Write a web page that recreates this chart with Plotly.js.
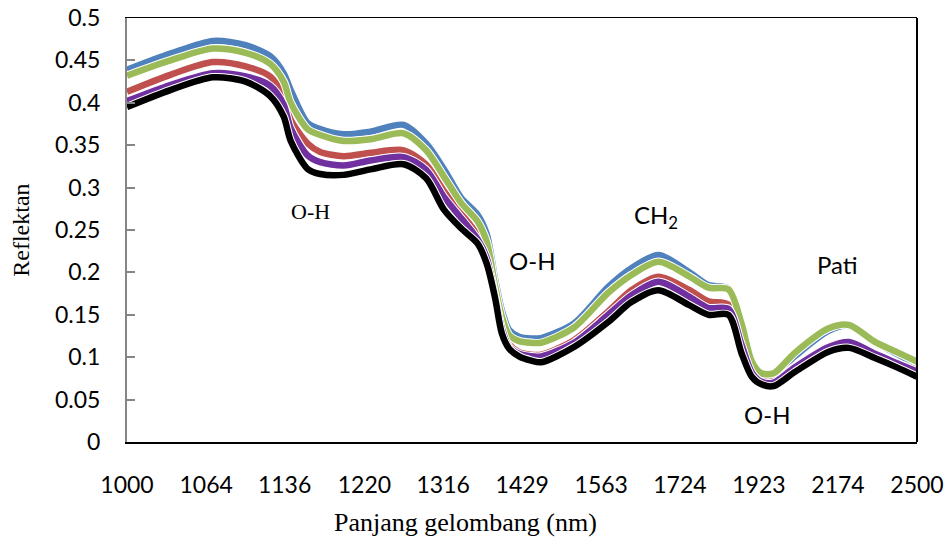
<!DOCTYPE html>
<html>
<head>
<meta charset="utf-8">
<script src="https://cdn.plot.ly/plotly-3.0.1.min.js"></script>
<style>html,body{margin:0;padding:0;background:#fff}#chart{width:945px;height:537px}</style>
</head>
<body>
<div id="chart"></div>
<script>
// Wavelength (nm) sample points
const wavelength = [1000,1034,1070,1099,1122,1135,1142,1159,1172,1197,1227,1266,1294,1317,1340,1363,1376,1388,1398,1409,1424,1443,1459,1514,1576,1621,1677,1743,1791,1841,1875,1903,1930,1965,2029,2141,2214,2315,2408,2500];

const seriesBlue   = [0.439,0.458,0.473,0.468,0.455,0.435,0.415,0.376,0.369,0.363,0.366,0.374,0.352,0.322,0.288,0.268,0.245,0.192,0.155,0.132,0.124,0.122,0.1226,0.140,0.183,0.205,0.2205,0.201,0.185,0.181,0.140,0.093,0.079,0.079,0.101,0.131,0.137,0.117,0.104,0.091];
const seriesRed    = [0.413,0.433,0.448,0.443,0.431,0.408,0.380,0.352,0.342,0.337,0.341,0.344,0.327,0.296,0.270,0.244,0.222,0.176,0.138,0.115,0.106,0.103,0.103,0.120,0.154,0.179,0.195,0.180,0.166,0.162,0.120,0.085,0.073,0.072,0.089,0.113,0.118,0.104,0.093,0.085];
const seriesGreen  = [0.432,0.450,0.464,0.459,0.446,0.425,0.400,0.369,0.362,0.355,0.357,0.364,0.344,0.313,0.282,0.260,0.236,0.184,0.148,0.126,0.119,0.117,0.117,0.135,0.176,0.197,0.2126,0.196,0.182,0.180,0.140,0.095,0.081,0.081,0.105,0.134,0.138,0.118,0.106,0.0947];
const seriesPurple = [0.402,0.421,0.435,0.431,0.420,0.398,0.370,0.338,0.330,0.326,0.332,0.336,0.321,0.289,0.264,0.239,0.217,0.172,0.134,0.112,0.104,0.101,0.101,0.117,0.150,0.173,0.189,0.172,0.158,0.157,0.115,0.082,0.071,0.070,0.088,0.112,0.118,0.104,0.093,0.083];
const seriesBlack  = [0.395,0.415,0.430,0.425,0.408,0.384,0.355,0.322,0.316,0.315,0.3215,0.3275,0.311,0.274,0.252,0.234,0.210,0.170,0.128,0.110,0.101,0.096,0.094,0.112,0.1415,0.165,0.179,0.162,0.150,0.150,0.105,0.077,0.068,0.066,0.0825,0.1065,0.111,0.099,0.088,0.077];

const tickLabels = [1000,1064,1136,1220,1316,1429,1563,1724,1923,2174,2500];
const yTitle = "Reflektan";
const xTitle = "Panjang gelombang (nm)";

const series = [
  {y: seriesBlue,   color: "#4F81BD"},
  {y: seriesRed,    color: "#C0504D"},
  {y: seriesGreen,  color: "#9BBB59"},
  {y: seriesPurple, color: "#7030A0"},
  {y: seriesBlack,  color: "#000000"}
];

// x axis is evenly spaced in wavenumber (cm^-1) = 1e7 / wavelength
const xw = wavelength.map(l => 1e7 / l);

const traces = [];
series.forEach(s => {
  traces.push({x: xw, y: s.y, type: "scatter", mode: "lines",
    line: {color: "#ffffff", width: 8.5, shape: "spline", smoothing: 0.8}, hoverinfo: "skip", showlegend: false});
  traces.push({x: xw, y: s.y, type: "scatter", mode: "lines",
    line: {color: s.color, width: 6.5, shape: "spline", smoothing: 0.8}, hoverinfo: "skip", showlegend: false});
});

const sansFont = {family: "Lato, 'Open Sans', sans-serif", size: 23, color: "#000"};

const layout = {
  width: 945, height: 537,
  margin: {l: 127, r: 28, t: 18, b: 95},
  paper_bgcolor: "#fff", plot_bgcolor: "#fff",
  showlegend: false,
  xaxis: {
    range: [10000, 4000],
    tickvals: tickLabels.map(l => 1e7 / l),
    ticktext: tickLabels.map(String),
    showgrid: false, zeroline: false,
    showline: true, linecolor: "#000", linewidth: 1.5, mirror: true,
    ticks: "", ticklabelstandoff: 22,
    tickfont: sansFont
  },
  yaxis: {
    range: [0, 0.5], dtick: 0.05, tick0: 0,
    showgrid: false, zeroline: false,
    showline: true, linecolor: "#868686", linewidth: 2,
    ticks: "inside", ticklen: 8, tickwidth: 2, tickcolor: "#868686",
    ticklabelstandoff: 20,
    tickfont: sansFont
  },
  shapes: [
    {type: "line", xref: "paper", yref: "paper", x0: 1, x1: 1, y0: 0, y1: 1, line: {color: "#000", width: 2}}
  ],
  annotations: [
    {text: yTitle, xref: "paper", yref: "paper", x: -0.1345, y: 0.5, textangle: -90, showarrow: false, font: {family: "'Liberation Serif', serif", size: 24, color: "#000"}, xanchor: "center", yanchor: "middle"},
    {text: xTitle, xref: "paper", yref: "paper", x: 0.4289, y: -0.1887, showarrow: false, font: {family: "'Liberation Serif', serif", size: 26, color: "#000"}, xanchor: "center", yanchor: "middle"},
    {text: "O-H", xref: "paper", yref: "paper", x: 0.2322, y: 0.5425, showarrow: false, font: {family: "'Liberation Serif', serif", size: 22, color: "#000"}, xanchor: "center", yanchor: "middle"},
    {text: "O-H", xref: "paper", yref: "paper", x: 0.5127, y: 0.4269, showarrow: false, font: {family: "Lato, sans-serif", size: 24, color: "#000"}, xanchor: "center", yanchor: "middle"},
    {text: "CH<sub>2</sub>", xref: "paper", yref: "paper", x: 0.6701, y: 0.5307, showarrow: false, font: {family: "Lato, sans-serif", size: 24, color: "#000"}, xanchor: "center", yanchor: "middle"},
    {text: "Pati", xref: "paper", yref: "paper", x: 0.8997, y: 0.4198, showarrow: false, font: {family: "Lato, sans-serif", size: 24, color: "#000"}, xanchor: "center", yanchor: "middle"},
    {text: "O-H", xref: "paper", yref: "paper", x: 0.8096, y: 0.0660, showarrow: false, font: {family: "Lato, sans-serif", size: 24, color: "#000"}, xanchor: "center", yanchor: "middle"}
  ]
};

Plotly.newPlot("chart", traces, layout, {staticPlot: true, displayModeBar: false});
</script>
</body>
</html>
